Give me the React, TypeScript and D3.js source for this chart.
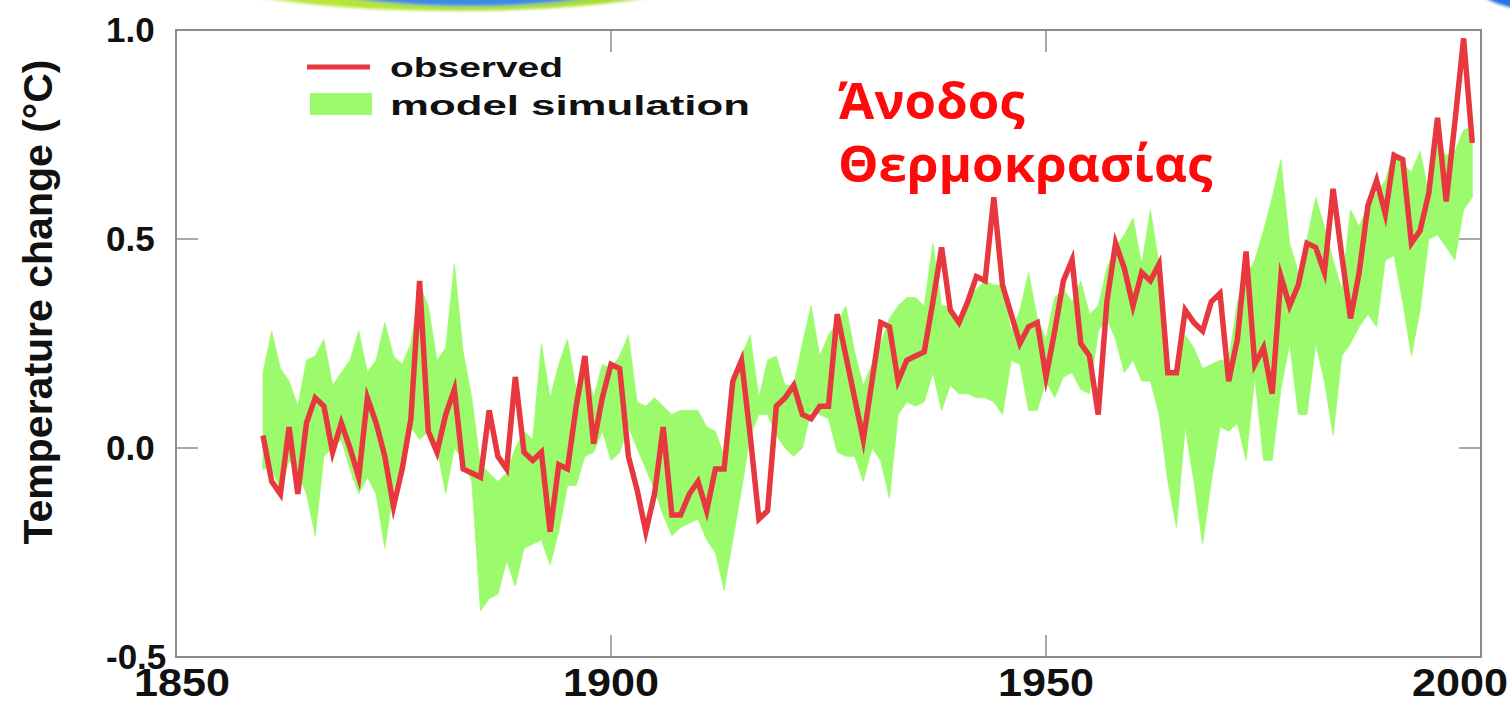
import React from "react";
import * as d3 from "d3";

// Global mean temperature anomaly, observed vs. model envelope (°C)
const startYear = 1860;

const observed = [
  0.03, -0.08, -0.11, 0.05, -0.11, 0.06, 0.12, 0.10, -0.01, 0.06,
  0.00, -0.07, 0.12, 0.06, -0.02, -0.14, -0.05, 0.07, 0.40, 0.04,
  -0.01, 0.08, 0.14, -0.05, -0.06, -0.07, 0.09, -0.02, -0.05, 0.17,
  -0.01, -0.03, -0.01, -0.20, -0.04, -0.05, 0.10, 0.22, 0.01, 0.12,
  0.20, 0.19, -0.02, -0.10, -0.20, -0.11, 0.05, -0.16, -0.16, -0.11,
  -0.08, -0.15, -0.05, -0.05, 0.16, 0.21, 0.03, -0.17, -0.15, 0.10,
  0.12, 0.15, 0.08, 0.07, 0.10, 0.10, 0.32, 0.22, 0.12, 0.02,
  0.16, 0.30, 0.29, 0.16, 0.21, 0.22, 0.23, 0.35, 0.48, 0.33,
  0.30, 0.35, 0.41, 0.40, 0.60, 0.39, 0.32, 0.25, 0.29, 0.30,
  0.17, 0.28, 0.40, 0.45, 0.25, 0.22, 0.08, 0.35, 0.49, 0.43,
  0.34, 0.42, 0.40, 0.44, 0.18, 0.18, 0.33, 0.30, 0.28, 0.35,
  0.37, 0.16, 0.26, 0.47, 0.20, 0.24, 0.13, 0.41, 0.34, 0.39,
  0.49, 0.48, 0.42, 0.62, 0.46, 0.31, 0.42, 0.58, 0.64, 0.56,
  0.70, 0.69, 0.49, 0.52, 0.61, 0.79, 0.59, 0.78, 0.98, 0.73,
];

const modelUpper = [
  0.18, 0.28, 0.19, 0.16, 0.10, 0.21, 0.22, 0.26, 0.15, 0.18,
  0.21, 0.28, 0.18, 0.21, 0.30, 0.22, 0.20, 0.25, 0.39, 0.34,
  0.21, 0.24, 0.44, 0.23, 0.12, -0.04, -0.06, -0.08, -0.06, 0.00,
  0.04, 0.02, 0.25, 0.12, 0.20, 0.26, 0.14, 0.21, 0.12, 0.20,
  0.19, 0.22, 0.27, 0.11, 0.10, 0.12, 0.10, 0.08, 0.09, 0.09,
  0.09, 0.05, 0.04, -0.02, 0.15, 0.22, 0.27, 0.12, 0.21, 0.22,
  0.15, 0.15, 0.25, 0.34, 0.22, 0.27, 0.30, 0.34, 0.23, 0.15,
  0.20, 0.25, 0.31, 0.34, 0.36, 0.36, 0.34, 0.49, 0.34, 0.34,
  0.30, 0.36, 0.38, 0.40, 0.39, 0.39, 0.28, 0.33, 0.42, 0.31,
  0.26, 0.36, 0.38, 0.35, 0.40, 0.32, 0.34, 0.43, 0.48, 0.51,
  0.55, 0.44, 0.57, 0.44, 0.18, 0.19, 0.27, 0.24, 0.19, 0.20,
  0.21, 0.21, 0.35, 0.41, 0.45, 0.52, 0.60, 0.69, 0.49, 0.42,
  0.50, 0.60, 0.53, 0.45, 0.38, 0.57, 0.53, 0.58, 0.61, 0.64,
  0.71, 0.68, 0.66, 0.71, 0.61, 0.73, 0.70, 0.71, 0.76, 0.77,
];

const modelLower = [
  -0.05, -0.05, -0.10, -0.03, -0.06, -0.11, -0.21, -0.02, 0.00, 0.02,
  -0.05, -0.11, -0.07, -0.11, -0.24, -0.10, -0.03, 0.05, 0.02, 0.04,
  0.00, -0.11, 0.00, -0.03, -0.08, -0.39, -0.36, -0.35, -0.27, -0.33,
  -0.24, -0.23, -0.22, -0.28, -0.20, -0.09, -0.09, -0.02, -0.01, 0.04,
  -0.03, -0.01, 0.05, 0.00, -0.05, -0.10, -0.16, -0.21, -0.19, -0.18,
  -0.17, -0.22, -0.25, -0.34, -0.22, -0.10, 0.03, 0.08, 0.08, 0.03,
  0.00, -0.02, 0.00, 0.09, 0.08, 0.07, -0.01, -0.02, -0.02, -0.08,
  0.00, -0.03, -0.12, 0.08, 0.11, 0.10, 0.11, 0.18, 0.09, 0.15,
  0.13, 0.13, 0.12, 0.12, 0.11, 0.08, 0.21, 0.20, 0.09, 0.09,
  0.16, 0.12, 0.17, 0.18, 0.14, 0.13, 0.28, 0.31, 0.26, 0.18,
  0.21, 0.16, 0.16, 0.08, -0.08, -0.19, 0.05, -0.08, -0.23, -0.08,
  0.05, 0.04, 0.06, -0.03, 0.17, -0.03, -0.03, 0.14, 0.25, 0.08,
  0.08, 0.25, 0.16, 0.03, 0.22, 0.25, 0.29, 0.32, 0.29, 0.45,
  0.46, 0.35, 0.22, 0.33, 0.50, 0.51, 0.48, 0.45, 0.57, 0.60,
];

const xTicks = [1850, 1900, 1950, 2000];
const yTicks = [1.0, 0.5, 0.0, -0.5];
const yTickLabels = ["1.0", "0.5", "0.0", "-0.5"];

const legendItems = ["observed", "model simulation"];
const headline = ["Άνοδος", "Θερμοκρασίας"];
const yTitle = "Temperature change (°C)";

const W = 1510;
const H = 703;

type Row = { year: number; obs: number; lo: number; hi: number };

const rows: Row[] = observed.map((v, i) => ({
  year: startYear + i,
  obs: v,
  lo: modelLower[i],
  hi: modelUpper[i],
}));

export default function App() {
  const x = d3.scaleLinear().domain([1850, 2000]).range([176, 1481]);
  const y = d3.scaleLinear().domain([-0.5, 1.0]).range([657, 30]);

  const band = d3
    .area<Row>()
    .x((d) => x(d.year))
    .y0((d) => y(d.lo))
    .y1((d) => y(d.hi))
    .curve(d3.curveLinear)(rows) as string;

  const line = d3
    .line<Row>()
    .x((d) => x(d.year))
    .y((d) => y(d.obs))(rows) as string;

  const [x0, x1] = x.range();
  const [yb, yt] = y.range();
  const tickLen = 22;
  const frame = "#8c8c8c";
  const axisFont = "'Liberation Sans', Arial, Helvetica, sans-serif";

  return (
    <svg
      width={W}
      height={H}
      viewBox={`0 0 ${W} ${H}`}
      style={{ position: "absolute", left: 0, top: 0, background: "#fff" }}
    >
      <defs>
        <radialGradient id="topBlue" cx="50%" cy="0%" r="70%">
          <stop offset="0%" stopColor="#0a2f9e" />
          <stop offset="70%" stopColor="#1f5fd6" />
          <stop offset="100%" stopColor="#3b8ae8" />
        </radialGradient>
        <linearGradient id="rim" x1="0" x2="1" y1="0" y2="0">
          <stop offset="0%" stopColor="#e9f7c8" stopOpacity={0.2} />
          <stop offset="25%" stopColor="#b8e63a" />
          <stop offset="75%" stopColor="#a9dc2c" />
          <stop offset="100%" stopColor="#eaf7d0" stopOpacity={0.3} />
        </linearGradient>
        <filter id="soft" x="-10%" y="-50%" width="120%" height="200%">
          <feGaussianBlur stdDeviation="1.5" />
        </filter>
      </defs>

      {/* slide banner at the top edge */}
      <g filter="url(#soft)">
        <ellipse cx={455} cy={-48} rx={310} ry={59} fill="url(#rim)" />
        <ellipse cx={470} cy={-50} rx={235} ry={56} fill="url(#topBlue)" />
        <ellipse cx={1530} cy={-18} rx={55} ry={27} fill="#2a6fe0" />
      </g>

      {/* model envelope */}
      <path d={band} fill="#9cfb6c" stroke="#9cfb6c" strokeWidth={0.8} />

      {/* observed record */}
      <path
        d={line}
        fill="none"
        stroke="#e8383f"
        strokeWidth={5.5}
        strokeLinejoin="miter"
        strokeMiterlimit={6}
      />

      {/* frame */}
      <rect
        x={x0}
        y={yt}
        width={x1 - x0}
        height={yb - yt}
        fill="none"
        stroke={frame}
        strokeWidth={2}
      />
      {xTicks.slice(1, -1).map((t) => (
        <g key={`xt${t}`} stroke={frame} strokeWidth={1.5}>
          <line x1={x(t)} x2={x(t)} y1={yb} y2={yb - tickLen} />
          <line x1={x(t)} x2={x(t)} y1={yt} y2={yt + tickLen} />
        </g>
      ))}
      {yTicks.slice(1, -1).map((t) => (
        <g key={`yt${t}`} stroke={frame} strokeWidth={1.5}>
          <line x1={x0} x2={x0 + tickLen} y1={y(t)} y2={y(t)} />
          <line x1={x1} x2={x1 - tickLen} y1={y(t)} y2={y(t)} />
        </g>
      ))}

      {/* y tick labels */}
      {yTicks.map((t, i) => (
        <text
          key={`yl${t}`}
          x={106}
          y={y(t)}
          dy="0.34em"
          fontFamily={axisFont}
          fontWeight={700}
          fontSize={35}
          fill="#111"
        >
          {yTickLabels[i]}
        </text>
      ))}

      {/* x tick labels, kept inside the canvas */}
      {xTicks.map((t) => {
        const half = 47;
        const cx = Math.min(Math.max(x(t), 135 + half), W - 3 - half);
        return (
          <text
            key={`xl${t}`}
            x={cx}
            y={696}
            textAnchor="middle"
            fontFamily={axisFont}
            fontWeight={700}
            fontSize={39}
            textLength={96}
            lengthAdjust="spacingAndGlyphs"
            fill="#111"
          >
            {t}
          </text>
        );
      })}

      {/* y axis title */}
      <text
        transform="translate(52,302) rotate(-90)"
        textAnchor="middle"
        fontFamily={axisFont}
        fontWeight={700}
        fontSize={41}
        fill="#111"
      >
        {yTitle}
      </text>

      {/* legend */}
      <line x1={307} x2={370} y1={67} y2={67} stroke="#e8383f" strokeWidth={5} />
      <rect x={310} y={93} width={62} height={22} fill="#9cfb6c" />
      <text
        x={390}
        y={77}
        fontFamily={axisFont}
        fontWeight={700}
        fontSize={27}
        textLength={173}
        lengthAdjust="spacingAndGlyphs"
        fill="#111"
      >
        {legendItems[0]}
      </text>
      <text
        x={390}
        y={115}
        fontFamily={axisFont}
        fontWeight={700}
        fontSize={27}
        textLength={360}
        lengthAdjust="spacingAndGlyphs"
        fill="#111"
      >
        {legendItems[1]}
      </text>

      {/* headline */}
      {headline.map((s, i) => (
        <text
          key={s}
          x={838}
          y={119 + i * 63}
          fontFamily="'Open Sans', 'Noto Sans', sans-serif"
          fontWeight={700}
          fontSize={51}
          fill="#ff0a0a"
        >
          {s}
        </text>
      ))}
    </svg>
  );
}
